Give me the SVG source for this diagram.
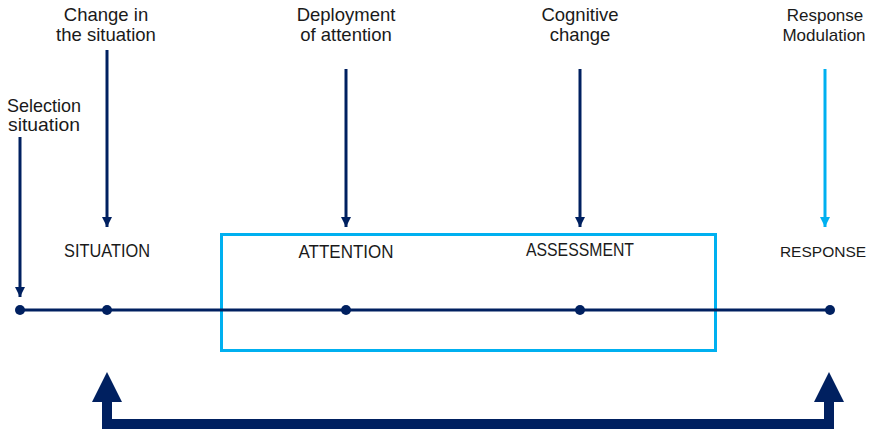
<svg xmlns="http://www.w3.org/2000/svg" width="871" height="429" viewBox="0 0 871 429">
  <style>
    text { font-family: "Liberation Sans", Arial, sans-serif; fill: #1a1a1a; text-anchor: middle; }
    .lbl { font-size: 18.5px; }
    .cap { font-size: 18.5px; }
    .navy { stroke: #002060; fill: none; stroke-width: 3; }
    .sky { stroke: #00B0F0; fill: none; stroke-width: 3; }
    .dot { fill: #002060; }
  </style>
  <defs>
    <marker id="headNavy" viewBox="0 0 10 10" refX="10" refY="5" markerWidth="10" markerHeight="10" markerUnits="userSpaceOnUse" orient="auto">
      <path d="M0,0 L10,5 L0,10 Z" fill="#002060"/>
    </marker>
    <marker id="headSky" viewBox="0 0 10 10" refX="10" refY="5" markerWidth="10" markerHeight="10" markerUnits="userSpaceOnUse" orient="auto">
      <path d="M0,0 L10,5 L0,10 Z" fill="#00B0F0"/>
    </marker>
  </defs>

  <!-- process frame around attention and assessment -->
  <rect id="frame" x="221.5" y="234.5" width="494" height="116" class="sky"/>

  <!-- timeline and connectors -->
  <g id="connectors">
    <line x1="20" y1="310" x2="830" y2="310" class="navy"/>
    <line x1="20" y1="137" x2="20" y2="297" class="navy" marker-end="url(#headNavy)"/>
    <line x1="107" y1="50" x2="107" y2="227" class="navy" marker-end="url(#headNavy)"/>
    <line x1="346" y1="69" x2="346" y2="227" class="navy" marker-end="url(#headNavy)"/>
    <line x1="580" y1="69" x2="580" y2="227" class="navy" marker-end="url(#headNavy)"/>
    <line x1="825" y1="69" x2="825" y2="227" class="sky" marker-end="url(#headSky)"/>
    <!-- feedback loop -->
    <path d="M107,400 V424 H829 V400" fill="none" stroke="#002060" stroke-width="10"/>
    <path d="M92,402 L107,372 L122,402 Z" fill="#002060"/>
    <path d="M814,402 L829,372 L844,402 Z" fill="#002060"/>
  </g>

  <g id="selection">
    <text class="lbl" x="44" y="112" textLength="74" lengthAdjust="spacingAndGlyphs">Selection</text>
    <text class="lbl" x="44" y="131" textLength="72" lengthAdjust="spacingAndGlyphs">situation</text>
    <circle class="dot" cx="20" cy="310" r="5"/>
  </g>

  <g id="situation">
    <text class="lbl" x="106" y="21">Change in</text>
    <text class="lbl" x="106" y="41">the situation</text>
    <text class="cap" x="107" y="257" textLength="86" lengthAdjust="spacingAndGlyphs">SITUATION</text>
    <circle class="dot" cx="107" cy="310" r="5"/>
  </g>

  <g id="attention">
    <text class="lbl" x="346" y="21">Deployment</text>
    <text class="lbl" x="346" y="41">of attention</text>
    <text class="cap" x="346" y="258" textLength="95" lengthAdjust="spacingAndGlyphs">ATTENTION</text>
    <circle class="dot" cx="346" cy="310" r="5"/>
  </g>

  <g id="assessment">
    <text class="lbl" x="580" y="21">Cognitive</text>
    <text class="lbl" x="580" y="41">change</text>
    <text class="cap" x="580" y="256" textLength="108" lengthAdjust="spacingAndGlyphs">ASSESSMENT</text>
    <circle class="dot" cx="580" cy="310" r="5"/>
  </g>

  <g id="response">
    <text x="825" y="21" font-size="17">Response</text>
    <text x="824" y="41" font-size="17">Modulation</text>
    <text x="823" y="257" font-size="15.5">RESPONSE</text>
    <circle class="dot" cx="830" cy="310" r="5"/>
  </g>
</svg>
